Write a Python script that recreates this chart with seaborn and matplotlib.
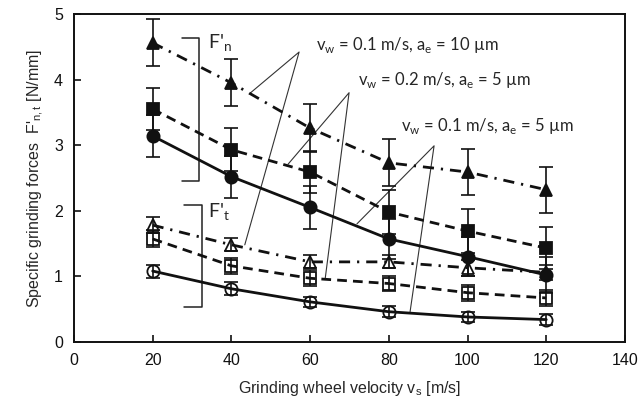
import matplotlib
matplotlib.use("Agg")
import matplotlib.pyplot as plt
import numpy as np
import pandas as pd
import seaborn as sns

vs = [20, 40, 60, 80, 100, 120]

fn_10um = [4.56, 3.95, 3.26, 2.73, 2.59, 2.32]
fn_02 = [3.55, 2.93, 2.59, 1.98, 1.69, 1.43]
fn_5um = [3.14, 2.52, 2.05, 1.57, 1.30, 1.02]
ft_10um = [1.78, 1.48, 1.22, 1.22, 1.13, 1.06]
ft_02 = [1.57, 1.16, 0.97, 0.89, 0.75, 0.67]
ft_5um = [1.08, 0.81, 0.61, 0.46, 0.38, 0.34]

err_fn_10um = [0.36, 0.36, 0.37, 0.36, 0.35, 0.35]
err_fn_02 = [0.32, 0.33, 0.32, 0.33, 0.34, 0.32]
err_fn_5um = [0.32, 0.32, 0.33, 0.30, 0.30, 0.28]
err_ft_10um = [0.12, 0.10, 0.10, 0.10, 0.12, 0.12]
err_ft_02 = [0.13, 0.12, 0.12, 0.12, 0.12, 0.12]
err_ft_5um = [0.10, 0.10, 0.08, 0.08, 0.08, 0.08]

series = [
    ("Fn 10um", fn_10um, err_fn_10um, "^", True, (4, 2.5, 0.8, 2.5)),
    ("Fn 0.2", fn_02, err_fn_02, "s", True, (3.5, 2.2)),
    ("Fn 5um", fn_5um, err_fn_5um, "o", True, ""),
    ("Ft 10um", ft_10um, err_ft_10um, "^", False, (4, 2.5, 0.8, 2.5)),
    ("Ft 0.2", ft_02, err_ft_02, "s", False, (3.5, 2.2)),
    ("Ft 5um", ft_5um, err_ft_5um, "o", False, ""),
]
sizes = {"^": 9, "s": 8.5, "o": 8.8}

sns.set_style("ticks")
plt.rcParams['font.family'] = ['Liberation Sans', 'DejaVu Sans']

fig = plt.figure(figsize=(6.41, 4.07), dpi=100)
ax = fig.add_axes([0.1154, 0.160, 0.8596, 0.8056])

for name, vals, errs, mk, filled, dash in series:
    df = pd.DataFrame({"vs": vs, "F": vals})
    ax.errorbar(vs, vals, yerr=errs, fmt="none", ecolor="#111111",
                elinewidth=1.2, capsize=5, capthick=1.2, zorder=2)
    sns.lineplot(data=df, x="vs", y="F", ax=ax, color="#111111",
                 linewidth=2.0, marker=mk, markersize=sizes[mk],
                 markerfacecolor="#111111" if filled else "none",
                 markeredgecolor="#111111",
                 markeredgewidth=1.3, zorder=3)
    ln = ax.lines[-1]
    if dash:
        ln.set_dashes(dash)

# brackets for F'n and F't
lk = dict(color="#222222", lw=1.1)
ax.plot([27.4, 31.8, 31.8, 27.4], [4.63, 4.63, 2.45, 2.45], **lk)
ax.plot([27.9, 32.5, 32.5, 27.9], [2.09, 2.09, 0.53, 0.53], **lk)
ax.text(34, 4.56, "F'$_\\mathregular{n}$", fontsize=14, va="center", family=["Lato", "DejaVu Sans"])
ax.text(34, 1.98, "F'$_\\mathregular{t}$", fontsize=14, va="center", family=["Lato", "DejaVu Sans"])

# leader lines
leaders = [
    ((57.2, 4.42), (44.5, 3.78), (43.4, 1.48)),
    ((69.9, 3.80), (54.4, 2.71), (63.8, 0.95)),
    ((91.5, 2.99), (71.9, 1.80), (85.4, 0.46)),
]
for apex, a, b in leaders:
    ax.plot([a[0], apex[0], b[0]], [a[1], apex[1], b[1]], color="#333333", lw=0.8, zorder=1)

tk = dict(fontsize=12, va="center", family=["Lato", "DejaVu Sans"])
ax.text(61.5, 4.53, "v$_\\mathregular{w}$ = 0.1 m/s, a$_\\mathregular{e}$ = 10 µm", **tk)
ax.text(72.2, 3.99, "v$_\\mathregular{w}$ = 0.2 m/s, a$_\\mathregular{e}$ = 5 µm", **tk)
ax.text(83.1, 3.29, "v$_\\mathregular{w}$ = 0.1 m/s, a$_\\mathregular{e}$ = 5 µm", **tk)

ax.set_xlim(0, 140)
ax.set_ylim(0, 5)
ax.set_xticks(np.arange(0, 141, 20))
ax.set_yticks(np.arange(0, 6, 1))
ax.tick_params(direction="in", length=5, width=1.2, labelsize=11.5, pad=8, colors="#111111")
for s in ax.spines.values():
    s.set_linewidth(1.4)
    s.set_color("#111111")
ax.set_xlabel("Grinding wheel velocity v$_\\mathregular{s}$ [m/s]", fontsize=11.5, labelpad=8)
ax.set_ylabel("Specific grinding forces  F'$_\\mathregular{n,t}$ [N/mm]", fontsize=11.5, labelpad=6)

fig.savefig("out.png", dpi=100)
